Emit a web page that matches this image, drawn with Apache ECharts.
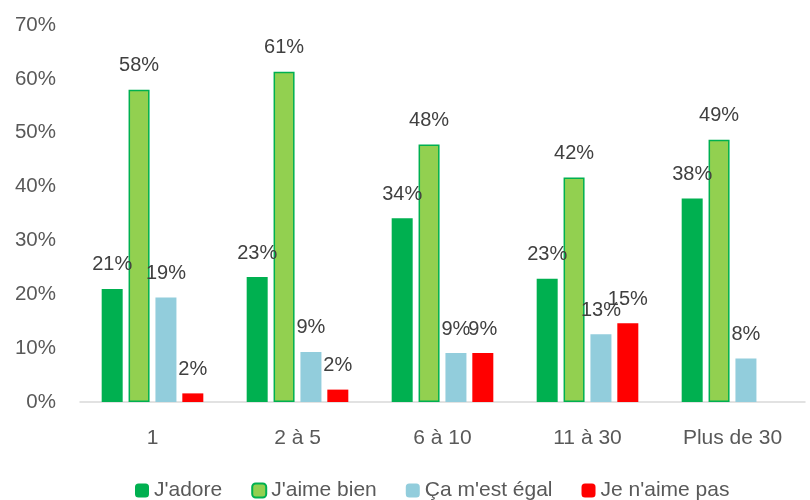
<!DOCTYPE html>
<html>
<head>
<meta charset="utf-8">
<script src="https://cdn.jsdelivr.net/npm/echarts@6/dist/echarts.min.js"></script>
<style>
  html, body { margin: 0; padding: 0; background: #fff; }
  #chart { width: 810px; height: 500px; }
</style>
</head>
<body>
<div id="chart"></div>
<script>
const categories = ['1', '2 à 5', '6 à 10', '11 à 30', 'Plus de 30'];
const jadore = [21, 23.2, 34.1, 22.9, 37.8];
const jaimeBien = [58, 61.3, 47.8, 41.7, 48.7];
const egal = [19.4, 9.3, 9.1, 12.6, 8.1];
const jaimePas = [1.6, 2.3, 9.1, 14.6, null];

const font = 'Liberation Sans';

const myChart = echarts.init(document.getElementById('chart'));

const label = {
  show: true,
  position: 'top',
  distance: 14,
  fontFamily: font,
  fontSize: 20,
  color: '#404040',
  formatter: (p) => Math.round(p.value) + '%'
};

const makeSeries = (name, data, color, border) => ({
  name: name,
  type: 'bar',
  data: data,
  barWidth: 21,
  barGap: '28%',
  itemStyle: border
    ? { color: color, borderColor: '#00B050', borderWidth: 1.5 }
    : { color: color },
  label: label
});

const option = {
  animation: false,
  textStyle: { fontFamily: font },
  grid: { left: 80, right: 5, top: 25, bottom: 98 },
  legend: {
    bottom: -6,
    left: 130,
    itemWidth: 14,
    itemHeight: 14,
    itemGap: 29,
    textStyle: { fontFamily: font, fontSize: 21, color: '#595959' },
    data: ["J'adore", "J'aime bien", "Ça m'est égal", "Je n'aime pas"]
  },
  xAxis: {
    type: 'category',
    data: categories,
    axisLine: { lineStyle: { color: '#d9d9d9', width: 1.5 } },
    axisTick: { show: false },
    axisLabel: { fontFamily: font, fontSize: 21, color: '#595959', margin: 26 }
  },
  yAxis: {
    type: 'value',
    min: 0,
    max: 70,
    interval: 10,
    splitLine: { show: false },
    axisLine: { show: false },
    axisLabel: {
      fontFamily: font,
      fontSize: 20.5,
      color: '#595959',
      margin: 24,
      formatter: '{value}%'
    }
  },
  series: [
    makeSeries("J'adore", jadore, '#00B050'),
    makeSeries("J'aime bien", jaimeBien, '#92D050', true),
    makeSeries("Ça m'est égal", egal, '#92CDDC'),
    makeSeries("Je n'aime pas", jaimePas, '#FF0000')
  ]
};

option && myChart.setOption(option);
</script>
</body>
</html>
